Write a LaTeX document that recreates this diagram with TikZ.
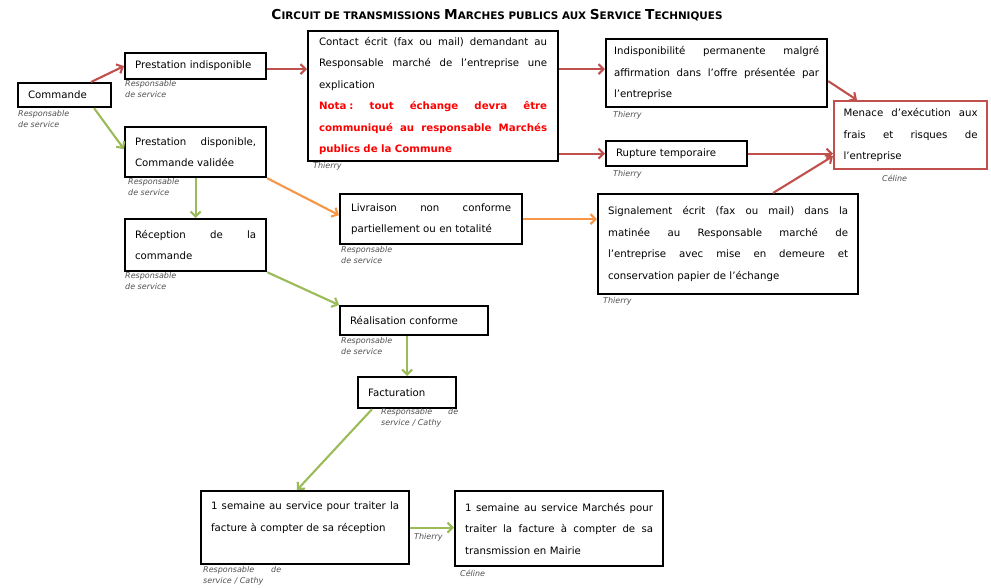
\documentclass[tikz,border=0pt]{standalone}
\usepackage{fontspec}
\setmainfont{DejaVu Sans}
\usetikzlibrary{arrows.meta,calc}
\definecolor{cred}{HTML}{C0504D}
\definecolor{cgreen}{HTML}{9BBB59}
\definecolor{corange}{HTML}{F79646}
\definecolor{clab}{HTML}{505050}
\definecolor{cnota}{HTML}{FF0000}
\newcommand\jl[2]{\makebox[#1][s]{\spaceskip=0.3em plus 1fil\relax #2}}
\newcommand\tcap[1]{{\fontsize{12.5}{14}\selectfont #1}}
\newcommand\tsm[1]{{\fontsize{9.5}{14}\selectfont #1}}
\newcommand\nota[1]{{\bfseries\color{cnota}#1}}
\begin{document}
\begin{tikzpicture}[x=1pt,y=-1pt,
  box/.style={draw=black,line width=2.2pt,rectangle,anchor=north west,inner sep=0pt,
    font=\fontsize{10.2}{21.5}\selectfont,align=left},
  lab/.style={anchor=north west,inner sep=0pt,font=\fontsize{8}{11}\selectfont\itshape,
    text=clab,align=left},
  arr/.style={line width=2.1pt,-{Straight Barb[length=5pt,width=10pt]}},
  rarr/.style={arr,draw=cred},
  garr/.style={arr,draw=cgreen},
  oarr/.style={arr,draw=corange}]
\fill[white] (0,0) rectangle (991,587);
\useasboundingbox (0,0) rectangle (991,587);

% title
\node[font=\bfseries,inner sep=0pt] (title) at (497,15) {\resizebox{451pt}{!}{\tcap{C}\tsm{IRCUIT DE TRANSMISSIONS }\tcap{M}\tsm{ARCHES PUBLICS AUX }\tcap{S}\tsm{ERVICE }\tcap{T}\tsm{ECHNIQUES}}};

% boxes
\node[box,minimum width=93,minimum height=24,text width=73] (cmd) at (17,82) {Commande};
\node[box,minimum width=141,minimum height=26,text width=121] (pi) at (124,52) {Prestation indisponible};
\node[box,minimum width=141,minimum height=50,text width=121] (pd) at (124,126) {\jl{121pt}{Prestation disponible,}\\Commande validée};
\node[box,minimum width=141,minimum height=52,text width=121] (rc) at (124,218) {\jl{121pt}{Réception de la}\\commande};
\node[box,minimum width=250,minimum height=130,text width=228] (ct) at (307,30)
  {\jl{228pt}{Contact écrit (fax ou mail) demandant au}\\
   \jl{228pt}{Responsable marché de l’entreprise une}\\
   explication\\
   \nota{\jl{228pt}{\mbox{Nota :} tout échange devra être}}\\
   \nota{\jl{228pt}{communiqué au responsable Marchés}}\\
   \nota{publics de la Commune}};
\node[box,minimum width=221,minimum height=68,text width=205] (ip) at (605,38)
  {\jl{205pt}{Indisponibilité permanente malgré}\\
   \jl{205pt}{affirmation dans l’offre présentée par}\\
   l’entreprise};
\node[box,minimum width=141,minimum height=25,text width=121] (rt) at (605,140) {Rupture temporaire};
\node[box,draw=cred,minimum width=153,minimum height=68,text width=134] (mn) at (833,100)
  {\jl{134pt}{Menace d’exécution aux}\\
   \jl{134pt}{frais et risques de}\\
   l’entreprise};
\node[box,minimum width=182,minimum height=50,text width=160] (lv) at (339,193)
  {\jl{160pt}{Livraison non conforme}\\partiellement ou en totalité};
\node[box,minimum width=260,minimum height=100,text width=240] (sg) at (597,193)
  {\jl{240pt}{Signalement écrit (fax ou mail) dans la}\\
   \jl{240pt}{matinée au Responsable marché de}\\
   \jl{240pt}{l’entreprise avec mise en demeure et}\\
   conservation papier de l’échange};
\node[box,minimum width=148,minimum height=29,text width=128] (rl) at (339,305) {Réalisation conforme};
\node[box,minimum width=98,minimum height=31,text width=78] (fc) at (357,376) {Facturation};
\node[box,minimum width=208,minimum height=73,text width=188] (s1) at (200,490)
  {\jl{188pt}{1 semaine au service pour traiter la}\\
   facture à compter de sa réception\\ \mbox{}};
\node[box,minimum width=208,minimum height=75,text width=188] (s2) at (454,490)
  {\jl{188pt}{1 semaine au service Marchés pour}\\
   \jl{188pt}{traiter la facture à compter de sa}\\
   transmission en Mairie};

% labels
\node[lab] (lcmd) at (18,110) {Responsable\\de service};
\node[lab] (lpi) at (125,80) {Responsable\\de service};
\node[lab] (lpd) at (128,178) {Responsable\\de service};
\node[lab] (lrc) at (125,272) {Responsable\\de service};
\node[lab] (lct) at (313,162) {Thierry};
\node[lab] (lip) at (613,111) {Thierry};
\node[lab] (lrt) at (613,170) {Thierry};
\node[lab] (lmn) at (882,175) {Céline};
\node[lab] (llv) at (341,246) {Responsable\\de service};
\node[lab] (lsg) at (603,297) {Thierry};
\node[lab] (lrl) at (341,337) {Responsable\\de service};
\node[lab,text width=77] (lfc) at (381,408) {\jl{77pt}{Responsable de}\\service / Cathy};
\node[lab,text width=78] (ls1) at (203,566) {\jl{78pt}{Responsable de}\\service / Cathy};
\node[lab] (lth) at (414,533) {Thierry};
\node[lab] (ls2) at (460,570) {Céline};

% helper coordinates
\coordinate (a3) at ($(pi.east)+(0,3)$);
\coordinate (a4) at ($(ip.west)+(0,-4)$);

% connectors
\draw[rarr] ($(cmd.north)+(26.5,0)$) -- (pi.west);
\draw[garr] ($(cmd.south)+(29.5,0)$) -- ($(pd.west)+(0,-3)$);
\draw[rarr] (a3) -- (a3 -| ct.west);
\draw[rarr] (a4 -| ct.east) -- (a4);
\draw[rarr] (rt.west -| ct.east) -- (rt.west);
\draw[rarr] ($(ip.east)+(0,8)$) -- ($(mn.north west)+(24,0)$);
\draw[rarr] (rt.east) -- (rt.east -| mn.west);
\draw[rarr] ($(sg.north west)+(176,0)$) -- ($(mn.west)+(0,21)$);
\draw[oarr] (pd.south east) -- ($(lv.west)+(0,-4)$);
\draw[garr] (pd.south) -- (rc.north);
\draw[oarr] (lv.east) -- (lv.east -| sg.west);
\draw[garr] (rc.south east) -- (rl.north west);
\draw[garr] (rl.south -| fc.north) -- (fc.north);
\draw[garr] ($(fc.south west)+(15,0)$) -- ($(s1.north west)+(97,0)$);
\draw[garr] (s1.east) -- (s1.east -| s2.west);
\end{tikzpicture}
\end{document}
